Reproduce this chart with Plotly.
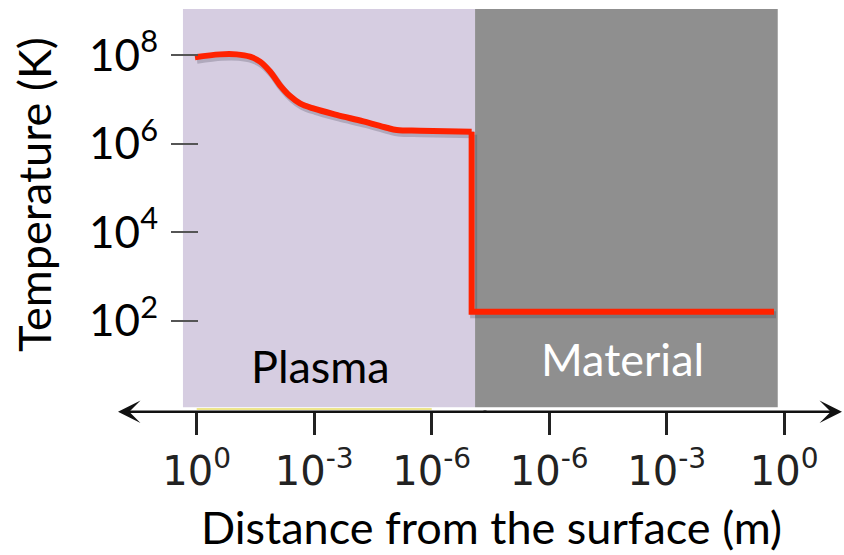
import plotly.graph_objects as go

# ---------------- data ----------------
# x positions are in axis units: 0..5 are the six labelled ticks
x_tick_pos = [0, 1, 2, 3, 4, 5]
x_tick_text = ["10<sup>0</sup>", "10<sup>-3</sup>", "10<sup>-6</sup>",
               "10<sup>-6</sup>", "10<sup>-3</sup>", "10<sup>0</sup>"]

y_tick_vals = [1e2, 1e4, 1e6, 1e8]
y_tick_text = ["10<sup>2</sup>", "10<sup>4</sup>", "10<sup>6</sup>", "10<sup>8</sup>"]

# temperature profile in the plasma (smooth part)
plasma_x = [-0.015, 0.198, 0.340, 0.454, 0.539, 0.624, 0.709, 0.794, 0.879,
            0.992, 1.191, 1.418, 1.617, 1.702, 1.900, 2.340]
plasma_T = [9.0e7, 1.05e8, 1.05e8, 9.3e7, 7.2e7, 4.3e7, 2.1e7, 1.2e7, 8.2e6,
            6.3e6, 4.5e6, 3.2e6, 2.3e6, 2.05e6, 1.97e6, 1.87e6]

# drop at the surface and temperature inside the material
material_x = [2.340, 2.340, 4.913]
material_T = [1.87e6, 160, 160]

# shaded regions (x extents in axis units)
plasma_region = [-0.117, 2.369]
material_region = [2.369, 4.945]
region_labels = ["Plasma", "Material"]

# ---------------- figure ----------------
W, H = 844, 555
FONT = "Lato"
RED = "#FF2200"

fig = go.Figure()

# soft drop shadow of the curve
sx = 2 / 117.5
sy = 10 ** (-3 / 44.23)
fig.add_trace(go.Scatter(x=[v + sx for v in plasma_x], y=[t * sy for t in plasma_T],
                         mode="lines", line=dict(color="rgba(40,40,60,0.22)", width=7,
                                                 shape="spline", smoothing=1),
                         hoverinfo="skip", showlegend=False))
fig.add_trace(go.Scatter(x=[v + sx for v in material_x], y=[t * sy for t in material_T],
                         mode="lines", line=dict(color="rgba(40,40,60,0.22)", width=7),
                         hoverinfo="skip", showlegend=False))

fig.add_trace(go.Scatter(x=plasma_x, y=plasma_T, mode="lines",
                         line=dict(color=RED, width=6, shape="spline", smoothing=1),
                         showlegend=False))
fig.add_trace(go.Scatter(x=material_x, y=material_T, mode="lines",
                         line=dict(color=RED, width=6), showlegend=False))

# background regions
fig.add_shape(type="rect", xref="x", yref="paper",
              x0=plasma_region[0], x1=plasma_region[1], y0=1 - 407.3 / H, y1=1 - 9 / H,
              fillcolor="#D6CDE1", line_width=0, layer="below")
fig.add_shape(type="rect", xref="x", yref="paper",
              x0=material_region[0], x1=material_region[1], y0=1 - 407.3 / H, y1=1 - 9 / H,
              fillcolor="#8F8F8F", line_width=0, layer="below")
# faint yellow stripe at the bottom of the plasma band
fig.add_shape(type="line", xref="x", yref="paper",
              x0=x_tick_pos[0], x1=x_tick_pos[2], y0=1 - 409 / H, y1=1 - 409 / H,
              line=dict(color="#EEE68C", width=2), layer="below")

# region labels
fig.add_annotation(x=sum(plasma_region) / 2 - 0.073, xref="x", y=1 - 366 / H, yref="paper",
                   xanchor="center", yanchor="middle",
                   text=region_labels[0], showarrow=False,
                   font=dict(family=FONT, size=45, color="black"))
fig.add_annotation(x=sum(material_region) / 2 - 0.035, xref="x", y=1 - 359 / H, yref="paper",
                   xanchor="center", yanchor="middle",
                   text=region_labels[1], showarrow=False,
                   font=dict(family=FONT, size=45, color="white"))

# axis titles
fig.add_annotation(x=491 / W, y=1 - 527 / H, xref="paper", yref="paper",
                   xanchor="center", yanchor="middle",
                   text="Distance from the surface (m)", showarrow=False,
                   font=dict(family=FONT, size=45, color="black"))
fig.add_annotation(x=34 / W, y=1 - 195 / H, xref="paper", yref="paper",
                   xanchor="center", yanchor="middle",
                   text="Temperature (K)", textangle=-90, showarrow=False,
                   font=dict(family=FONT, size=45, color="black"))

# double-headed arrow for the distance axis
axis_y = 1 - 411.7 / H
for xt, ax in [(118 / W, 370), (842 / W, -360)]:
    fig.add_annotation(x=xt, y=axis_y, xref="paper", yref="paper",
                       ax=ax, ay=0, axref="pixel", ayref="pixel",
                       text="", showarrow=True, arrowhead=3, arrowsize=1.5,
                       arrowwidth=2.5, arrowcolor="#111111", standoff=0)

x_range = [-196.7 / 117.5, (W - 196.7) / 117.5]
y_range = [5 - 367 / 44.23, 5 + 188 / 44.23]

fig.update_layout(
    width=W, height=H,
    margin=dict(l=0, r=0, t=0, b=0),
    paper_bgcolor="white", plot_bgcolor="white",
    showlegend=False,
    xaxis=dict(range=x_range, domain=[0, 1], anchor="free", position=axis_y,
               showgrid=False, zeroline=False, showline=False,
               tickmode="array", tickvals=x_tick_pos, ticktext=x_tick_text,
               ticks="outside", ticklen=22, tickwidth=2.5, tickcolor="#222222",
               tickfont=dict(family="DejaVu Sans", size=40, color="#222222"),
               ticklabelstandoff=2, tickangle=0),
    yaxis=dict(type="log", range=y_range, domain=[0, 1], anchor="free", position=170 / W,
               showgrid=False, zeroline=False, showline=False,
               tickmode="array", tickvals=y_tick_vals, ticktext=y_tick_text,
               ticks="inside", ticklen=27, tickwidth=1.5, tickcolor="#555555",
               tickfont=dict(family=FONT, size=44, color="black"),
               ticklabelstandoff=12),
)

fig.write_html("out.html", config={"displayModeBar": False},
               post_script="document.body.style.margin='0';")
